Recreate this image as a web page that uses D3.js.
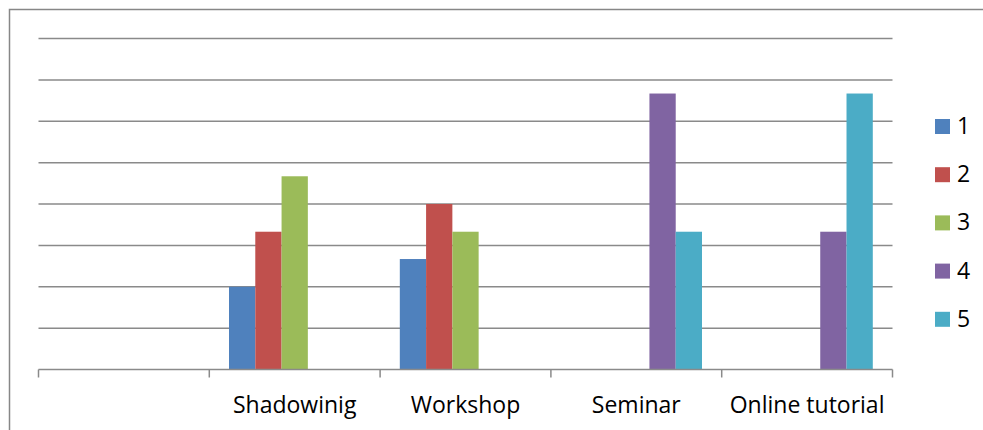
<!DOCTYPE html>
<html>
<head>
<meta charset="utf-8">
<script src="https://cdn.jsdelivr.net/npm/d3@7"></script>
<style>
  body { margin: 0; background: #fff; }
  svg text { font-family: "Open Sans", "Noto Sans", sans-serif; fill: #000; }
</style>
</head>
<body>
<svg id="chart" width="983" height="430"></svg>
<script>
// data (percent of answers)
var categories = ["", "Shadowinig", "Workshop", "Seminar", "Online tutorial"];
var seriesNames = ["1", "2", "3", "4", "5"];
var colors = ["#4F81BD", "#C0504D", "#9BBB59", "#8064A2", "#4BACC6"];
// one array per series, one value per category (null = no bar)
var series1 = [null, 20, 26.7, null, null];
var series2 = [null, 33.3, 40, null, null];
var series3 = [null, 46.7, 33.3, null, null];
var series4 = [null, null, null, 66.7, 33.3];
var series5 = [null, null, null, 33.3, 66.7];
var yTicks = [0, 10, 20, 30, 40, 50, 60, 70, 80];

var allSeries = [series1, series2, series3, series4, series5];

var svg = d3.select("#chart");

// outer frame, runs off the right and bottom edges
svg.append("rect")
  .attr("x", 9.5).attr("y", 9.5)
  .attr("width", 1000).attr("height", 440)
  .style("fill", "#fff")
  .style("stroke", "#878787")
  .style("stroke-width", 1.5);

var plotLeft = 38.5, plotRight = 892.5, plotTop = 38.5, plotBottom = 369.5;

var x0 = d3.scaleBand().domain(categories).range([plotLeft, plotRight]);
var x1 = d3.scaleBand().domain(seriesNames).range([0, x0.bandwidth()]).paddingOuter(0.75);
var y = d3.scaleLinear().domain([0, 80]).range([plotBottom, plotTop]);

// gridlines
svg.append("g")
  .selectAll("line")
  .data(yTicks.slice(1))
  .enter().append("line")
    .attr("x1", plotLeft).attr("x2", plotRight)
    .attr("y1", function(d){ return y(d); })
    .attr("y2", function(d){ return y(d); })
    .style("stroke", "#8a8a8a")
    .style("stroke-width", 1.5);

// bars
var bars = [];
allSeries.forEach(function(vals, i){
  vals.forEach(function(v, j){
    if (v !== null) bars.push({s: seriesNames[i], c: categories[j], v: v, color: colors[i]});
  });
});

svg.append("g")
  .selectAll("rect")
  .data(bars)
  .enter().append("rect")
    .attr("x", function(d){ return x0(d.c) + x1(d.s); })
    .attr("y", function(d){ return y(d.v); })
    .attr("width", x1.bandwidth())
    .attr("height", function(d){ return plotBottom - y(d.v); })
    .style("fill", function(d){ return d.color; });

// x axis with ticks between categories
var axis = svg.append("g");
axis.append("line")
  .attr("x1", plotLeft).attr("x2", plotRight)
  .attr("y1", plotBottom).attr("y2", plotBottom)
  .style("stroke", "#8a8a8a").style("stroke-width", 1.5);

var edges = categories.map(function(c){ return x0(c); }).concat([plotRight]);
axis.selectAll(".tick")
  .data(edges)
  .enter().append("line")
    .attr("class", "tick")
    .attr("x1", function(d){ return d; }).attr("x2", function(d){ return d; })
    .attr("y1", plotBottom).attr("y2", plotBottom + 8)
    .style("stroke", "#8a8a8a").style("stroke-width", 1.5);

axis.selectAll("text")
  .data(categories)
  .enter().append("text")
    .attr("x", function(d){ return x0(d) + x0.bandwidth() / 2; })
    .attr("y", 413)
    .attr("text-anchor", "middle")
    .style("font-size", "23px")
    .text(function(d){ return d; });

// legend
var legend = svg.append("g")
  .selectAll("g")
  .data(seriesNames)
  .enter().append("g")
    .attr("transform", function(d, i){ return "translate(935," + (119 + i * 48.2) + ")"; });

legend.append("rect")
  .attr("width", 15).attr("height", 15)
  .style("fill", function(d, i){ return colors[i]; });

legend.append("text")
  .attr("x", 22).attr("y", 15)
  .style("font-size", "23px")
  .text(function(d){ return d; });
</script>
</body>
</html>
